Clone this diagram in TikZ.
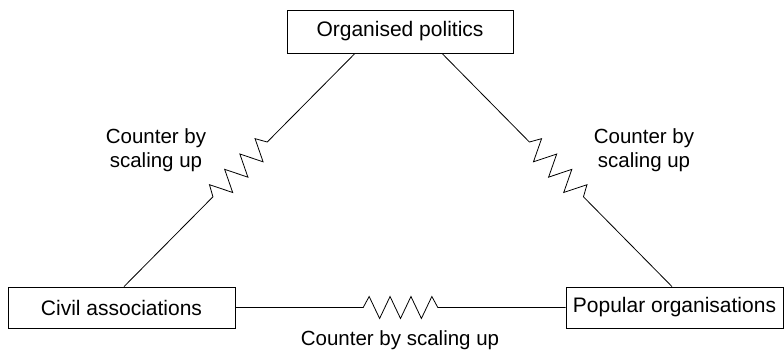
\documentclass[tikz,border=0pt]{standalone}
\usepackage{fontspec}
\setmainfont{Liberation Sans}
\usetikzlibrary{calc}
\begin{document}
\begin{tikzpicture}[x=1pt,y=1pt,
  box/.style={draw, line width=0.8pt, minimum height=41pt, inner sep=0pt, font=\fontsize{21}{25}\selectfont},
  lab/.style={align=center, inner sep=0pt, font=\fontsize{20.5}{24}\selectfont},
  conn/.style={line width=0.8pt, line join=miter}]
\useasboundingbox (0,0) rectangle (784,354);
\node[box, minimum width=226pt, minimum height=43pt] (top) at (400,322.5) {Organised politics};
\node[box, minimum width=227pt] (civ) at (121.5,46.5) {Civil associations};
\node[box, minimum width=217pt] (pop) at (674.5,46.5) {Popular organisations};
% anchor points
\coordinate (tl) at ([xshift=-45pt]top.south);
\coordinate (tr) at ([xshift=42pt]top.south);
\coordinate (cn) at ([xshift=2.5pt]civ.north);
\coordinate (pn) at ([xshift=-2.5pt]pop.north);
\path (civ.east) -- (pop.west) coordinate[pos=0.387] (hs) coordinate[pos=0.613] (he);
\path (cn) -- (tl) coordinate[pos=0.385] (ls) coordinate[pos=0.62] (le);
\path (pn) -- (tr) coordinate[pos=0.385] (rs) coordinate[pos=0.62] (re);
% connectors with zigzags
\draw[conn] (civ.east) -- (hs)
  \foreach \k/\a in {0.08/90,0.22/-90,0.36/90,0.5/-90,0.64/90,0.78/-90,0.92/90}{ -- ($(hs)!\k!(he)!11pt!\a:(he)$)}
  -- (he) -- (pop.west);
\draw[conn] (cn) -- (ls)
  \foreach \k/\a in {0.08/90,0.22/-90,0.36/90,0.5/-90,0.64/90,0.78/-90,0.92/90}{ -- ($(ls)!\k!(le)!11pt!\a:(le)$)}
  -- (le) -- (tl);
\draw[conn] (pn) -- (rs)
  \foreach \k/\a in {0.08/-90,0.22/90,0.36/-90,0.5/90,0.64/-90,0.78/90,0.92/-90}{ -- ($(rs)!\k!(re)!11pt!\a:(re)$)}
  -- (re) -- (tr);
% labels
\node[lab] (ll) at (156,204) {Counter by\\scaling up};
\node[lab] (rl) at (644,204) {Counter by\\scaling up};
\node[lab] (bl) at (400,14) {Counter by scaling up};
\end{tikzpicture}
\end{document}
